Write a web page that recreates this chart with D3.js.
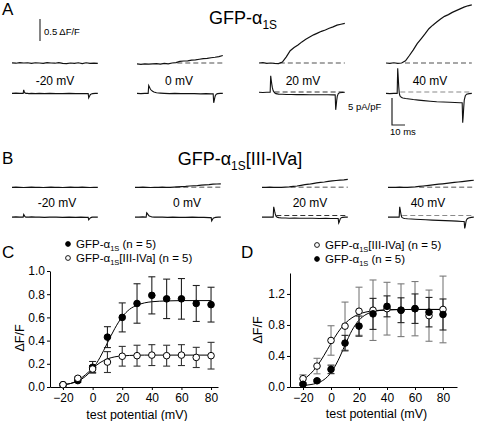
<!DOCTYPE html>
<html><head><meta charset="utf-8">
<script src="https://cdn.jsdelivr.net/npm/d3@7"></script>
<style>body{margin:0;background:#fff}svg{display:block}text{font-family:Arial,"Liberation Sans",Helvetica,sans-serif;fill:#000}</style>
</head><body>
<script>
// ---------------- DATA ----------------
const stepLabels = ["-20 mV", "0 mV", "20 mV", "40 mV"];
// time samples (ms) for fluorescence and current traces
const tF = [-9,-6,-3,0,3,6,9,12,15,18,21,24,27,30,33,36,39,42,45,48,51,54,57];
const tI = [-9,-6,-3,-1,-0.4,0,0.4,0.8,1.2,1.6,2,3,4,6,9,12,16,20,25,30,35,40,44,48,49.6,50,50.4,50.8,51.2,52,53,55,57];
// Panel A: GFP-a1S  (dF/F)
const fA1 = [0.005,-0.005,0.01,0,0.005,-0.01,0.005,0,-0.01,0.01,0,-0.005,0.01,-0.01,-0.015,0,-0.01,0.005,-0.015,0.005,-0.01,-0.005,-0.01];
const fA2 = [-0.02,-0.03,-0.02,-0.025,-0.02,-0.015,-0.025,-0.01,-0.02,0,0.01,0.035,0.045,0.05,0.065,0.07,0.085,0.1,0.105,0.12,0.13,0.145,0.17];
const fA3 = [0,0.01,-0.01,0,-0.01,-0.015,0.02,0.14,0.28,0.35,0.41,0.48,0.54,0.59,0.64,0.68,0.72,0.75,0.79,0.82,0.86,0.88,0.9];
const fA4 = [0,-0.01,0.005,-0.01,0,0.05,0.17,0.3,0.44,0.55,0.66,0.78,0.86,0.93,1.0,1.06,1.1,1.15,1.19,1.23,1.27,1.3,1.32];
// Panel A currents (pA/pF)
const iA1 = [-0.25,-0.2,-0.25,-0.25,-0.25,0.4,0.1,-0.15,-0.2,-0.25,-0.25,-0.25,-0.3,-0.25,-0.3,-0.25,-0.3,-0.25,-0.3,-0.3,-0.25,-0.3,-0.3,-0.3,-0.3,-1.1,-0.9,-0.7,-0.5,-0.35,-0.3,-0.25,-0.25];
const iA2 = [-0.25,-0.3,-0.25,-0.25,-0.25,1.2,1.0,0.8,0.6,0.45,0.35,0.15,0.0,-0.15,-0.2,-0.25,-0.3,-0.25,-0.3,-0.3,-0.3,-0.35,-0.3,-0.35,-0.35,-2.0,-1.6,-1.1,-0.7,-0.4,-0.3,-0.25,-0.25];
const iA3 = [-0.05,-0.1,-0.05,-0.05,-0.05,3.0,2.2,1.5,0.9,0.5,0.2,-0.15,-0.3,-0.4,-0.42,-0.45,-0.45,-0.48,-0.47,-0.5,-0.5,-0.52,-0.5,-0.53,-0.53,-3.3,-2.5,-1.5,-0.8,-0.3,-0.15,-0.1,-0.05];
const iA4 = [-0.25,-0.3,-0.25,-0.25,-0.25,4.4,2.8,1.0,-0.2,-0.6,-0.8,-1.0,-1.1,-1.2,-1.3,-1.4,-1.5,-1.6,-1.7,-1.8,-1.85,-1.9,-1.95,-2.0,-2.0,-5.7,-4.5,-2.8,-1.5,-0.7,-0.4,-0.3,-0.25];
// Panel B: GFP-a1S[III-IVa]
const fB1 = [0,0.005,0,-0.005,0,0.005,0,0,-0.005,0,0.005,0,0,-0.005,0,0.005,0,0,0.005,0,-0.005,0,0];
const fB2 = [0,0,0.005,0,-0.005,0,0,0.005,0,0,0.005,0.01,0.015,0.02,0.03,0.035,0.04,0.05,0.055,0.06,0.07,0.075,0.08];
const fB3 = [0,0,0.005,0,0,0,0.005,0.01,0.02,0.03,0.045,0.06,0.07,0.085,0.1,0.11,0.12,0.135,0.145,0.155,0.165,0.17,0.18];
const fB4 = [0,0,0,0.005,0,0,0.005,0.01,0.02,0.03,0.04,0.05,0.06,0.07,0.08,0.09,0.1,0.11,0.12,0.13,0.14,0.15,0.16];
const iB1 = [-0.3,-0.25,-0.3,-0.3,-0.3,0.2,0.05,-0.15,-0.25,-0.3,-0.3,-0.3,-0.3,-0.25,-0.3,-0.3,-0.35,-0.3,-0.3,-0.35,-0.3,-0.35,-0.3,-0.35,-0.35,-0.8,-0.7,-0.55,-0.45,-0.35,-0.3,-0.3,-0.3];
const iB2 = [-0.3,-0.3,-0.25,-0.3,-0.3,0.5,0.4,0.25,0.1,0.0,-0.1,-0.2,-0.25,-0.3,-0.3,-0.3,-0.35,-0.3,-0.35,-0.35,-0.3,-0.35,-0.35,-0.4,-0.4,-1.0,-0.85,-0.65,-0.5,-0.4,-0.35,-0.3,-0.3];
const iB3 = [-0.3,-0.3,-0.3,-0.3,-0.3,1.6,1.2,0.7,0.3,0.0,-0.2,-0.35,-0.4,-0.45,-0.45,-0.5,-0.45,-0.5,-0.5,-0.5,-0.55,-0.5,-0.55,-0.55,-0.55,-1.4,-1.2,-0.9,-0.6,-0.4,-0.35,-0.3,-0.3];
const iB4 = [-0.3,-0.3,-0.3,-0.3,-0.3,1.6,1.1,0.5,0.0,-0.3,-0.4,-0.5,-0.55,-0.6,-0.65,-0.7,-0.75,-0.8,-0.85,-0.9,-0.95,-1.0,-1.05,-1.1,-1.1,-2.4,-2.0,-1.4,-0.9,-0.6,-0.45,-0.35,-0.3];
// start times (ms) of the dashed baselines, null = none
const fDashA = [null, 22, 7, 5.6];
const iDashA = [null, null, 3, 2];
const fDashB = [null, 22, 13, 15];
const iDashB = [null, null, 2, 2];

// Panels C / D
const testV = [-20,-10,0,10,20,30,40,50,60,70,80];
const xTicks = [-20,0,20,40,60,80];
const C_wt = [0.02,0.055,0.17,0.43,0.60,0.72,0.79,0.76,0.76,0.72,0.71];
const C_wtErr = [0.01,0.015,0.05,0.09,0.125,0.17,0.16,0.17,0.175,0.155,0.15];
const C_mut = [0.02,0.075,0.155,0.215,0.265,0.27,0.275,0.27,0.275,0.255,0.27];
const C_mutErr = [0.01,0.012,0.03,0.09,0.085,0.09,0.09,0.09,0.09,0.087,0.115];
const D_mut = [0.107,0.27,0.60,0.785,0.977,0.99,1.01,0.99,1.01,0.92,1.0];
const D_mutErr = [0.05,0.1,0.19,0.31,0.31,0.39,0.34,0.34,0.35,0.33,0.43];
const D_wt = [0.035,0.08,0.227,0.566,0.785,0.943,1.04,0.99,1.01,0.965,0.935];
const D_wtErr = [0.015,0.015,0.055,0.1,0.13,0.2,0.135,0.16,0.19,0.19,0.2];
// fitted Boltzmann curves, sampled
const fitV = [-20,-15,-10,-5,0,5,10,15,20,25,30,35,40,50,60,70,80];
const C_wtFit = [0.02,0.03,0.05,0.09,0.155,0.255,0.38,0.505,0.605,0.67,0.705,0.725,0.735,0.742,0.745,0.745,0.745];
const C_mutFit = [0.02,0.03,0.057,0.104,0.16,0.21,0.242,0.26,0.268,0.272,0.274,0.275,0.275,0.275,0.275,0.275,0.275];
const D_mutFit = [0.095,0.164,0.269,0.408,0.562,0.706,0.818,0.893,0.94,0.967,0.982,0.99,0.995,0.999,1.0,1.0,1.0];
const D_wtFit = [0.02,0.03,0.05,0.095,0.185,0.34,0.54,0.731,0.862,0.935,0.971,0.987,0.994,0.999,1.0,1.0,1.0];
const C_yTicks = [0,0.2,0.4,0.6,0.8,1.0];
const D_yTicks = [0,0.4,0.8,1.2];

// ---------------- DRAW ----------------
const W = 477, H = 421;
const svg = d3.select("body").append("svg").attr("width", W).attr("height", H);
const FONT = 'Arial,"Liberation Sans",Helvetica,sans-serif';

function label(x, y, txt, size, anchor) {
  return svg.append("text").attr("x", x).attr("y", y).attr("font-size", size)
    .attr("text-anchor", anchor || "start").text(txt);
}
function richTitle(x, y, size, suffix, anchor) {
  const t = svg.append("text").attr("x", x).attr("y", y).attr("font-size", size)
    .attr("text-anchor", anchor || "start");
  t.append("tspan").text("GFP-\u03b1");
  t.append("tspan").attr("font-size", size * 0.66).attr("dy", size * 0.25).text("1S");
  if (suffix) t.append("tspan").attr("dy", -size * 0.25).text(suffix);
  return t;
}

// panel letters
label(2, 15, "A", 17);
label(2, 164, "B", 17);
label(2, 258, "C", 17);
label(241, 258, "D", 17);

// titles
richTitle(243, 24, 18, null, "middle");
richTitle(240, 165, 18, "[III-IVa]", "middle");

function tracePanel(cfg) {
  cfg.cols.forEach((c, k) => {
    const x = d3.scaleLinear().domain([-9, 57]).range([c.xs, c.xs + 85.8]);
    const fl = tF.map((t, i) => [t, c.f[i]]);
    const cu = tI.map((t, i) => [t, c.i[i]]);
    if (c.fd != null) {
      svg.append("line").attr("x1", x(c.fd)).attr("x2", x(57))
        .attr("y1", cfg.yF(0)).attr("y2", cfg.yF(0))
        .attr("stroke", "#8a8a8a").attr("stroke-width", 1.4).attr("stroke-dasharray", "5,3");
    }
    if (c.id != null) {
      svg.append("line").attr("x1", x(c.id)).attr("x2", x(57))
        .attr("y1", cfg.yI(0)).attr("y2", cfg.yI(0))
        .attr("stroke", k === 2 ? "#333" : "#8a8a8a").attr("stroke-width", 1.2).attr("stroke-dasharray", "5,3");
    }
    svg.append("path").attr("d", d3.line().x(d => x(d[0])).y(d => cfg.yF(d[1]))(fl))
      .attr("fill", "none").attr("stroke", "#111").attr("stroke-width", 1.2);
    svg.append("path").attr("d", d3.line().x(d => x(d[0])).y(d => cfg.yI(d[1]))(cu))
      .attr("fill", "none").attr("stroke", "#111").attr("stroke-width", 1.1);
    label(c.lx, cfg.labelY, stepLabels[k], 12, "middle");
  });
}

const yFA = d3.scaleLinear().domain([0, 0.5]).range([63, 41]);
const yIA = d3.scaleLinear().domain([0, 5]).range([92, 65]);
tracePanel({
  yF: yFA, yI: yIA, labelY: 85,
  cols: [
    {xs: 12, f: fA1, i: iA1, fd: fDashA[0], id: iDashA[0], lx: 55},
    {xs: 137, f: fA2, i: iA2, fd: fDashA[1], id: iDashA[1], lx: 179},
    {xs: 259, f: fA3, i: iA3, fd: fDashA[2], id: iDashA[2], lx: 303},
    {xs: 386, f: fA4, i: iA4, fd: fDashA[3], id: iDashA[3], lx: 430}
  ]
});
const yFB = d3.scaleLinear().domain([0, 0.5]).range([187.3, 165.3]);
const yIB = d3.scaleLinear().domain([0, 5]).range([215.5, 188.5]);
tracePanel({
  yF: yFB, yI: yIB, labelY: 207,
  cols: [
    {xs: 12, f: fB1, i: iB1, fd: fDashB[0], id: iDashB[0], lx: 57},
    {xs: 135, f: fB2, i: iB2, fd: fDashB[1], id: iDashB[1], lx: 187},
    {xs: 262, f: fB3, i: iB3, fd: fDashB[2], id: iDashB[2], lx: 310},
    {xs: 388, f: fB4, i: iB4, fd: fDashB[3], id: iDashB[3], lx: 428}
  ]
});

// scale bars
svg.append("line").attr("x1", 40).attr("x2", 40).attr("y1", 41).attr("y2", 41 - (yFA(0) - yFA(0.5)))
  .attr("stroke", "#444").attr("stroke-width", 1.3);
label(44, 35, "0.5 \u0394F/F", 9.5);
const tScale = d3.scaleLinear().domain([0, 66]).range([0, 85.8]);
svg.append("path").attr("d", `M392,${125 - (yIA(0) - yIA(5))}V125H${392 + tScale(10)}`)
  .attr("fill", "none").attr("stroke", "#222").attr("stroke-width", 1.2);
label(348, 110, "5 pA/pF", 9.5);
label(390, 135, "10 ms", 9.5);

// ---------- C / D plots ----------
function ivPanel(p) {
  const x = d3.scaleLinear().domain(p.xd).range(p.xr);
  const y = d3.scaleLinear().domain(p.yd).range([387, p.yTop]);
  const g = svg.append("g");
  const ax = g.append("g").attr("transform", "translate(0,387)")
    .call(d3.axisBottom(x).tickValues(xTicks).tickSize(3).tickSizeOuter(0).tickPadding(3));
  const ay = g.append("g").attr("transform", `translate(${p.xr[0]},0)`)
    .call(d3.axisLeft(y).tickValues(p.yTicks).tickSize(3).tickSizeOuter(0).tickPadding(p.yPad).tickFormat(d3.format(".1f")));
  [ax, ay].forEach(a => {
    a.selectAll("text").attr("font-size", 12).attr("font-family", FONT).attr("fill", "#000");
    a.selectAll("line,path").attr("stroke", "#000");
  });
  label((p.xr[0] + p.xr[1]) / 2 + 3, p.titleY, "test potential (mV)", 12.5, "middle");
  svg.append("text").attr("transform", `translate(${p.ylx},${p.yly}) rotate(-90)`)
    .attr("font-size", 12.5).attr("text-anchor", "middle").text("\u0394F/F");
  p.fits.forEach(f => {
    g.append("path").attr("d", d3.line().curve(d3.curveMonotoneX).x(d => x(d[0])).y(d => y(d[1]))(fitV.map((v, i) => [v, f[i]])))
      .attr("fill", "none").attr("stroke", "#000").attr("stroke-width", 1);
  });
  p.series.forEach(s => {
    const eg = g.append("g").attr("stroke", s.errColor).attr("stroke-width", 1.1);
    testV.forEach((v, i) => {
      const cx = x(v), y1 = y(s.vals[i] + s.err[i]), y2 = y(s.vals[i] - s.err[i]);
      eg.append("line").attr("x1", cx).attr("x2", cx).attr("y1", y1).attr("y2", y2);
      eg.append("line").attr("x1", cx - 3.5).attr("x2", cx + 3.5).attr("y1", y1).attr("y2", y1);
      eg.append("line").attr("x1", cx - 3.5).attr("x2", cx + 3.5).attr("y1", y2).attr("y2", y2);
    });
  });
  p.series.forEach(s => {
    testV.forEach((v, i) => {
      g.append("circle").attr("cx", x(v)).attr("cy", y(s.vals[i])).attr("r", 3.3)
        .attr("fill", s.filled ? "#000" : "#fff").attr("stroke", "#000").attr("stroke-width", 1);
    });
  });
  p.legend.forEach((l, k) => {
    const ly = p.legY + k * 14;
    svg.append("circle").attr("cx", p.legX).attr("cy", ly - 4).attr("r", 2.4)
      .attr("fill", l.filled ? "#000" : "#fff").attr("stroke", "#000").attr("stroke-width", 0.9);
    const t = svg.append("text").attr("x", p.legX + 8).attr("y", ly).attr("font-size", 11.5);
    t.append("tspan").text("GFP-\u03b1");
    t.append("tspan").attr("font-size", 7.5).attr("dy", 3).text("1S");
    t.append("tspan").attr("dy", -3).text(l.suffix + " (n = 5)");
  });
}

ivPanel({
  xd: [-28.8, 84.7], xr: [50, 218], yd: [0, 1.0], yTop: 271, yTicks: C_yTicks, yPad: 2,
  titleY: 419, ylx: 24, yly: 338,
  fits: [C_wtFit, C_mutFit],
  series: [
    {vals: C_wt, err: C_wtErr, filled: true, errColor: "#222"},
    {vals: C_mut, err: C_mutErr, filled: false, errColor: "#333"}
  ],
  legX: 68, legY: 248,
  legend: [{filled: true, suffix: ""}, {filled: false, suffix: "[III-IVa]"}]
});
ivPanel({
  xd: [-29.3, 90], xr: [290, 457], yd: [0, 1.47], yTop: 273, yTicks: D_yTicks, yPad: 2,
  titleY: 418, ylx: 262, yly: 330,
  fits: [D_mutFit, D_wtFit],
  series: [
    {vals: D_mut, err: D_mutErr, filled: false, errColor: "#7a7a7a"},
    {vals: D_wt, err: D_wtErr, filled: true, errColor: "#222"}
  ],
  legX: 317, legY: 249,
  legend: [{filled: false, suffix: "[III-IVa]"}, {filled: true, suffix: ""}]
});
</script></body></html>
